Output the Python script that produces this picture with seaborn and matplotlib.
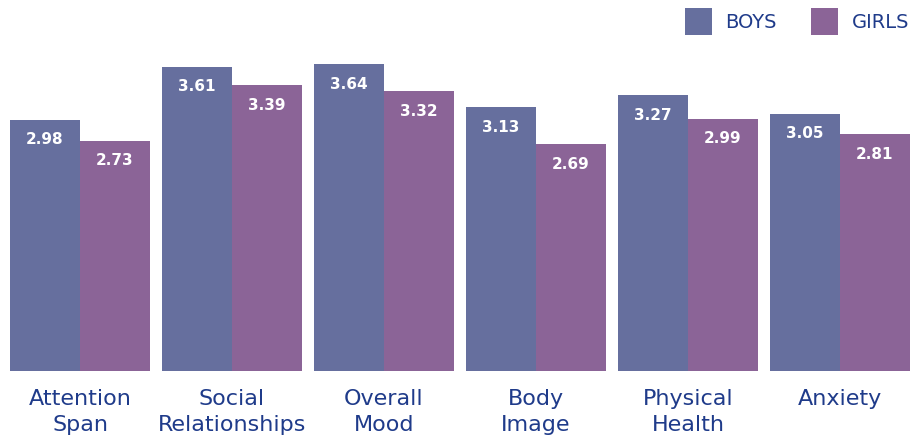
import matplotlib
matplotlib.use("Agg")
import matplotlib.pyplot as plt
import seaborn as sns
import pandas as pd
from matplotlib.patches import Patch

categories = ["Attention\nSpan", "Social\nRelationships", "Overall\nMood", "Body\nImage", "Physical\nHealth", "Anxiety"]
boys = [2.98, 3.61, 3.64, 3.13, 3.27, 3.05]
girls = [2.73, 3.39, 3.32, 2.69, 2.99, 2.81]
series = ["BOYS", "GIRLS"]
colors = ["#666f9e", "#8b6497"]
text_color = "#1f3b8a"

df = pd.DataFrame({
    "category": categories * 2,
    "value": boys + girls,
    "group": [series[0]] * len(categories) + [series[1]] * len(categories),
})

sns.set_theme(style="white")
plt.rcParams["font.family"] = ["DejaVu Sans"]

fig = plt.figure(figsize=(9.22, 4.4), dpi=100)
ax = fig.add_axes([4 / 922, 69 / 440, 912 / 922, 371 / 440])

sns.barplot(data=df, x="category", y="value", hue="group", palette=colors,
            width=0.92, gap=0, saturation=1, ax=ax, legend=False, errorbar=None,
            linewidth=0, edgecolor="none")

for cont in ax.containers:
    for bar in cont:
        h = bar.get_height()
        ax.annotate(f"{h:.2f}", (bar.get_x() + bar.get_width() / 2, h),
                    xytext=(0, -20), textcoords="offset pixels",
                    ha="center", va="center", color="white",
                    fontsize=11, fontweight="bold")

ax.set_xlim(-0.5, 5.5)
ax.set_ylim(0, 4.40)
ax.set_xlabel("")
ax.set_ylabel("")
ax.set_yticks([])
ax.tick_params(axis="x", length=0, pad=13, labelsize=16, labelcolor=text_color)
for lbl in ax.get_xticklabels():
    lbl.set_linespacing(1.35)
for s in ax.spines.values():
    s.set_visible(False)

handles = [Patch(facecolor=c, edgecolor="none", label=s) for c, s in zip(colors, series)]
leg = fig.legend(handles=handles, loc="upper right", bbox_to_anchor=(909 / 922, 1 - 8 / 440),
                 ncol=2, frameon=False, fontsize=14, handlelength=1.39, handleheight=1.75,
                 handletextpad=0.67, columnspacing=1.8, borderpad=0, borderaxespad=0)
for t in leg.get_texts():
    t.set_color(text_color)

fig.savefig("out.png", dpi=100)
